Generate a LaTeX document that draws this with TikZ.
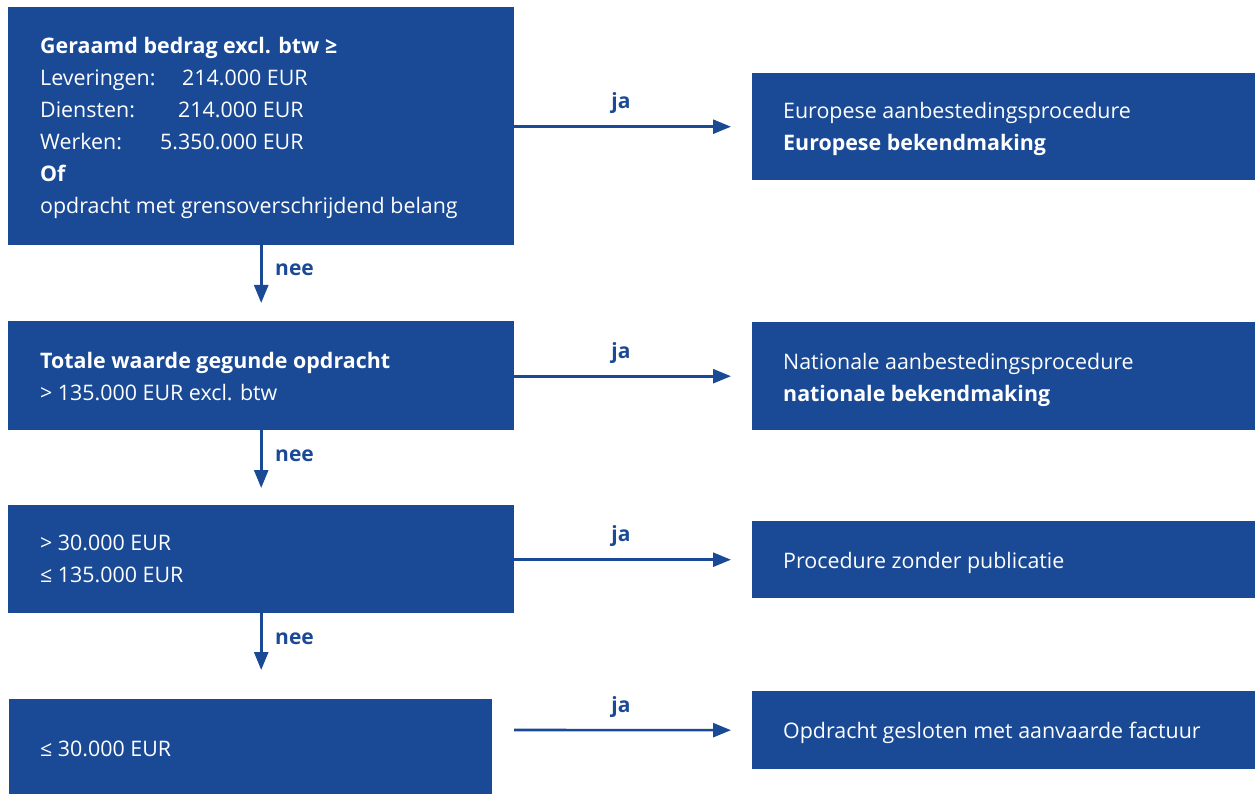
\documentclass[tikz,border=0pt]{standalone}
\usepackage{fontspec}
\setmainfont{Open Sans}
\usetikzlibrary{arrows.meta}
\definecolor{boxblue}{HTML}{1A4A96}
\tikzset{
  box/.style={fill=boxblue, draw=none, inner sep=0pt, anchor=north west},
  txt/.style={text=white, anchor=base west, inner sep=0pt, align=left, font=\fontsize{21.4}{32}\selectfont},
  lbl/.style={text=boxblue, anchor=base, inner sep=0pt, font=\fontsize{21}{24}\selectfont\bfseries},
  arr/.style={draw=boxblue, line width=2.6pt, -{Triangle[length=18pt,width=14pt]}}
}
\begin{document}
\begin{tikzpicture}[x=1pt,y=1pt]
\useasboundingbox (0,0) rectangle (1255,-794);
% left column boxes
\node[box, minimum width=506, minimum height=238] (b1) at (8,-7) {};
\node[box, minimum width=506, minimum height=109] (b2) at (8,-321) {};
\node[box, minimum width=506, minimum height=108] (b3) at (8,-505) {};
\node[box, minimum width=483, minimum height=95] (b4) at (9,-699) {};
% right column boxes
\node[box, minimum width=503, minimum height=107] (r1) at (752,-73) {};
\node[box, minimum width=503, minimum height=108] (r2) at (752,-322) {};
\node[box, minimum width=503, minimum height=77] (r3) at (752,-521) {};
\node[box, minimum width=503, minimum height=78] (r4) at (752,-691) {};
% texts left
\node[txt] (t1a) at (40,-54) {\textbf{Geraamd bedrag excl. btw ≥}};
\node[txt] (t1b) at (40,-86) {Leveringen:};
\node[txt] (t1bv) at (182,-86) {214.000 EUR};
\node[txt] (t1c) at (40,-118) {Diensten:};
\node[txt] (t1cv) at (178,-118) {214.000 EUR};
\node[txt] (t1d) at (40,-150) {Werken:};
\node[txt] (t1dv) at (160,-150) {5.350.000 EUR};
\node[txt] (t1e) at (40,-182) {\textbf{Of}};
\node[txt] (t1f) at (40,-214) {opdracht met grensoverschrijdend belang};
\node[txt] (t2a) at (40,-368) {\textbf{Totale waarde gegunde opdracht}};
\node[txt] (t2b) at (40,-400) {> 135.000 EUR excl. btw};
\node[txt] (t3a) at (40,-550) {> 30.000 EUR};
\node[txt] (t3b) at (40,-582) {≤ 135.000 EUR};
\node[txt] (t4a) at (40,-756) {≤ 30.000 EUR};
% texts right
\node[txt] (s1a) at (783,-119) {Europese aanbestedingsprocedure};
\node[txt] (s1b) at (783,-151) {\textbf{Europese bekendmaking}};
\node[txt] (s2a) at (783,-369) {Nationale aanbestedingsprocedure};
\node[txt] (s2b) at (783,-401) {\textbf{nationale bekendmaking}};
\node[txt] (s3a) at (783,-568) {Procedure zonder publicatie};
\node[txt] (s4a) at (783,-738) {Opdracht gesloten met aanvaarde factuur};
% arrows ja
\draw[arr, shorten >=21pt] (b1.east |- r1.west) -- (r1.west);
\draw[arr, shorten >=21pt] (b2.east |- r2.west) -- (r2.west);
\draw[arr, shorten >=21pt] (b3.east |- r3.west) -- (r3.west);
\coordinate (c4) at (514,-730);
\draw[arr, shorten >=21pt] (c4) -- (r4.west);
\node[lbl] (j1) at (621,-109) {ja};
\node[lbl] (j2) at (621,-358) {ja};
\node[lbl] (j3) at (621,-541) {ja};
\node[lbl] (j4) at (621,-712) {ja};
% arrows nee
\draw[arr, shorten >=18pt] (b1.south) -- (b2.north);
\draw[arr, shorten >=17pt] (b2.south) -- (b3.north);
\draw[arr, shorten >=29pt] (b3.south) -- (b3.south |- b4.north);
\node[lbl, anchor=base west] (n1) at (275,-276) {nee};
\node[lbl, anchor=base west] (n2) at (275,-461) {nee};
\node[lbl, anchor=base west] (n3) at (275,-644) {nee};
\end{tikzpicture}
\end{document}
